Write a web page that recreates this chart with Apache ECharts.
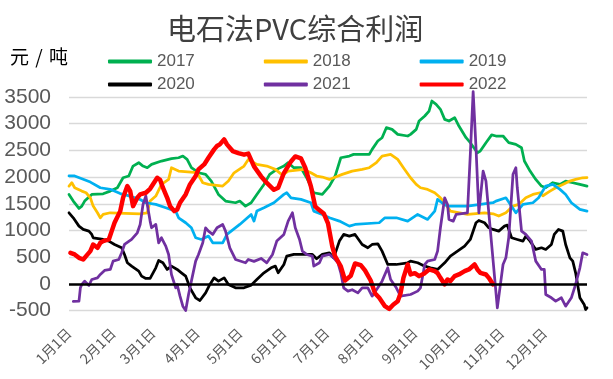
<!DOCTYPE html>
<html>
<head>
<meta charset="utf-8">
<script src="https://cdn.jsdelivr.net/npm/echarts@6/dist/echarts.min.js"></script>
<style>html,body{margin:0;padding:0;background:#fff;}#c{width:613px;height:379px;}</style>
</head>
<body>
<div id="c"></div>
<script>
const monthLabels = ['1月1日','2月1日','3月1日','4月1日','5月1日','6月1日','7月1日','8月1日','9月1日','10月1日','11月1日','12月1日'];
const monthStartDays = [0,31,59,90,120,151,181,212,243,273,304,334];
const dayCount = 365;
const yTicks = {min: -500, max: 3500, step: 500};

const s2017 = [[0,1675],[3,1550],[7,1412],[9,1456],[11,1550],[16,1675],[24,1687],[29,1737],[34,1800],[38,1987],[42,2019],[45,2206],[49,2269],[52,2206],[55,2175],[58,2237],[65,2300],[72,2344],[77,2362],[80,2394],[83,2331],[86,2175],[91,2081],[96,2050],[100,1925],[105,1675],[110,1550],[117,1519],[120,1550],[124,1456],[128,1519],[132,1675],[137,1862],[141,2050],[146,2144],[151,2206],[154,2269],[158,2175],[163,2175],[167,1987],[172,1706],[178,1675],[183,1831],[187,2019],[191,2362],[197,2394],[200,2425],[211,2425],[213,2519],[217,2675],[220,2737],[223,2925],[227,2894],[231,2800],[238,2769],[240,2800],[244,2894],[246,3050],[250,3144],[253,3237],[255,3425],[258,3362],[261,3269],[264,3081],[267,3050],[271,3112],[274,2956],[279,2737],[282,2644],[287,2456],[289,2487],[293,2644],[297,2790],[300,2769],[305,2769],[309,2644],[314,2612],[318,2550],[320,2300],[324,2112],[328,1956],[332,1831],[335,1800],[340,1894],[345,1862],[349,1925],[354,1894],[359,1862],[364,1831]];
const s2018 = [[0,1831],[2,1894],[4,1800],[9,1737],[12,1706],[15,1612],[17,1456],[20,1331],[22,1237],[24,1300],[29,1331],[50,1312],[55,1331],[57,1550],[61,1644],[65,1862],[70,1956],[72,2175],[77,2112],[90,2081],[94,1894],[98,1862],[108,1831],[112,1925],[116,2080],[123,2206],[126,2331],[132,2237],[139,2206],[145,2144],[150,2037],[154,2112],[165,2144],[170,2081],[174,2019],[178,2000],[183,1956],[186,1987],[192,2050],[199,2112],[206,2144],[211,2175],[216,2269],[220,2394],[226,2425],[231,2331],[235,2175],[240,1987],[244,1862],[247,1800],[252,1769],[257,1706],[261,1612],[264,1519],[268,1362],[280,1300],[292,1331],[298,1312],[302,1269],[307,1331],[312,1456],[316,1487],[321,1612],[326,1675],[331,1706],[333,1650],[338,1737],[342,1800],[347,1862],[352,1925],[356,1956],[361,1987],[364,1990]];
const s2019 = [[0,2020],[4,2020],[15,1906],[22,1800],[29,1770],[36,1690],[41,1656],[50,1580],[54,1519],[61,1488],[68,1425],[75,1362],[77,1237],[82,1144],[86,1050],[89,862],[93,831],[98,894],[101,769],[108,769],[111,925],[120,1112],[128,1300],[130,1175],[132,1362],[137,1425],[144,1519],[151,1675],[153,1706],[156,1612],[163,1581],[170,1519],[172,1362],[178,1300],[183,1237],[190,1175],[197,1081],[201,1112],[218,1144],[222,1237],[230,1237],[238,1175],[245,1300],[252,1206],[257,1362],[259,1581],[262,1519],[266,1456],[280,1456],[298,1519],[300,1550],[307,1612],[314,1331],[319,1487],[326,1519],[330,1612],[335,1831],[340,1862],[345,1769],[349,1675],[353,1519],[359,1394],[364,1362]];
const s2020 = [[0,1331],[3,1237],[7,1081],[10,1019],[14,987],[16,925],[17,862],[24,831],[28,800],[32,737],[37,675],[39,550],[41,394],[44,331],[49,237],[51,144],[54,100],[57,100],[61,300],[63,437],[66,394],[69,269],[72,331],[76,269],[79,206],[82,144],[85,-75],[89,-262],[92,-312],[96,-169],[99,-12],[102,112],[105,50],[109,112],[112,-12],[117,-75],[118,-106],[123,-75],[128,-25],[132,81],[137,206],[142,300],[145,331],[147,206],[151,362],[153,519],[158,550],[171,550],[174,470],[178,550],[183,581],[186,487],[190,800],[193,925],[197,894],[201,925],[206,737],[210,675],[213,737],[217,750],[220,612],[224,362],[230,362],[238,394],[240,425],[245,394],[250,331],[254,300],[259,269],[264,394],[268,519],[273,612],[278,706],[282,831],[286,1144],[288,1187],[292,1144],[295,1050],[298,1019],[302,987],[306,1081],[308,1100],[311,862],[315,831],[319,800],[321,894],[324,800],[328,644],[332,675],[335,644],[339,737],[341,925],[344,1019],[347,987],[349,737],[352,487],[354,425],[356,206],[359,-262],[362,-387],[363,-481],[364,-450]];
const s2021 = [[3,-330],[7,-325],[8,-75],[9,-12],[11,50],[14,-30],[16,81],[20,112],[22,175],[25,250],[29,269],[31,425],[35,456],[37,581],[39,737],[44,831],[48,956],[50,1112],[52,1487],[54,1644],[55,1487],[57,1175],[58,1050],[61,1112],[63,769],[65,862],[68,706],[70,550],[72,175],[75,-75],[76,-12],[78,-231],[80,-419],[82,-500],[84,-200],[86,50],[89,425],[91,550],[94,769],[96,1050],[98,987],[101,925],[104,1050],[108,1112],[110,987],[113,675],[117,456],[118,425],[124,394],[126,456],[130,420],[135,475],[139,394],[143,550],[146,800],[151,925],[154,1175],[157,1331],[159,1050],[162,831],[164,612],[167,550],[171,519],[172,331],[176,394],[178,519],[183,550],[186,487],[189,394],[191,206],[193,-75],[196,-137],[199,-110],[203,-169],[206,-75],[210,-75],[213,-231],[217,-75],[220,50],[224,300],[226,81],[230,-75],[233,-231],[240,-200],[245,-137],[247,-75],[250,362],[252,425],[257,456],[259,612],[261,1050],[264,1612],[266,1487],[267,1206],[270,1175],[272,1300],[280,1331],[282,2425],[284,3600],[286,2550],[288,1331],[289,1350],[291,2112],[293,1925],[301,-450],[305,362],[307,487],[309,862],[312,2050],[314,2175],[315,1800],[318,987],[321,925],[325,800],[328,425],[332,269],[334,269],[335,-200],[339,-262],[342,-325],[346,-262],[349,-419],[353,-262],[356,-12],[359,300],[361,581],[364,550]];
const s2022 = [[1,581],[4,550],[7,487],[10,456],[12,519],[15,612],[17,737],[20,675],[22,769],[24,800],[28,831],[30,987],[32,1144],[36,1362],[38,1612],[41,1831],[43,1737],[45,1456],[48,1612],[50,1675],[54,1706],[57,1780],[62,1987],[64,1950],[66,1800],[69,1612],[71,1456],[74,1362],[76,1390],[78,1519],[82,1675],[85,1862],[89,2019],[91,2144],[95,2237],[98,2362],[102,2519],[104,2581],[106,2612],[109,2706],[111,2612],[115,2487],[119,2450],[123,2419],[126,2440],[130,2200],[135,2012],[139,1890],[144,1762],[147,1800],[151,2075],[156,2293],[159,2387],[163,2350],[166,2175],[170,1825],[173,1450],[175,1400],[179,1318],[182,1131],[185,700],[187,512],[191,325],[194,62],[198,150],[201,381],[205,350],[208,250],[212,62],[215,-175],[218,-262],[222,-419],[225,-470],[228,-387],[231,-325],[233,-175],[235,112],[238,362],[240,175],[243,200],[246,144],[250,200],[253,269],[257,237],[259,200],[261,112],[264,-12],[266,81],[268,50],[271,144],[274,175],[278,237],[281,269],[285,362],[287,269],[289,206],[293,175],[295,112],[298,-12]];

const seriesNames = ['2017','2018','2019','2020','2021','2022'];
const seriesData = [s2017, s2018, s2019, s2020, s2021, s2022];
const seriesColors = ['#00b050','#ffc000','#00b0f0','#000000','#7030a0','#ff0000'];

const categories = [];
for (let i = 0; i < dayCount; i++) {
  const m = monthStartDays.indexOf(i);
  categories.push(m >= 0 ? monthLabels[m] : '');
}

const chart = echarts.init(document.getElementById('c'), null, {renderer: 'canvas'});
const series = seriesNames.map((name, i) => ({
  name: name,
  type: 'line',
  data: seriesData[i],
  showSymbol: false,
  symbol: 'none',
  clip: false,
  lineStyle: {color: seriesColors[i], width: name === '2022' ? 4.5 : 2.75, join: 'round', cap: 'round'},
  itemStyle: {color: seriesColors[i]},
  animation: false
}));
series[0].markLine = {
  silent: true,
  symbol: 'none',
  label: {show: false},
  lineStyle: {color: '#000', width: 2.5, type: 'solid'},
  data: [{yAxis: 0}],
  animation: false
};

const legendCommon = {
  left: 103, itemWidth: 44, itemHeight: 4, itemGap: 69, icon: 'roundRect',
  textStyle: {fontSize: 17, color: '#595959', fontFamily: 'Liberation Sans'},
  selectedMode: false
};

chart.setOption({
  animation: false,
  backgroundColor: '#fff',
  title: {
    text: '电石法PVC综合利润', left: 162, top: 9,
    textStyle: {fontSize: 29, fontWeight: 'normal', color: '#404040', fontFamily: 'Noto Sans CJK SC'}
  },
  graphic: [{
    type: 'text', left: 10, top: 47,
    style: {
      text: '{a|元}{b|/}{a|吨}',
      rich: {
        a: {fontSize: 19, fontFamily: 'Noto Sans CJK SC', fill: '#000', color: '#000'},
        b: {fontSize: 19, fontFamily: 'Noto Sans CJK SC', width: 20, align: 'center', fill: '#000', color: '#000'}
      }
    }
  }],
  legend: [
    Object.assign({}, legendCommon, {top: 48, data: seriesNames.slice(0, 3)}),
    Object.assign({}, legendCommon, {top: 71, data: seriesNames.slice(3)})
  ],
  grid: {left: 69, right: 26, top: 97, bottom: 68.5, containLabel: false},
  xAxis: {
    type: 'category',
    data: categories,
    boundaryGap: false,
    axisLine: {show: false},
    axisTick: {show: false},
    splitLine: {show: false},
    axisLabel: {
      interval: (index) => monthStartDays.indexOf(index) >= 0,
      rotate: 45,
      margin: 20,
      fontSize: 14,
      color: '#595959',
      fontFamily: 'Noto Sans CJK SC'
    }
  },
  yAxis: {
    type: 'value',
    min: yTicks.min, max: yTicks.max, interval: yTicks.step,
    axisLine: {show: false},
    axisTick: {show: false},
    splitLine: {lineStyle: {color: '#d9d9d9', width: 1.3}},
    axisLabel: {fontSize: 21, color: '#595959', fontFamily: 'Liberation Sans', margin: 18, formatter: (v) => String(v)}
  },
  series: series
});
</script>
</body>
</html>
